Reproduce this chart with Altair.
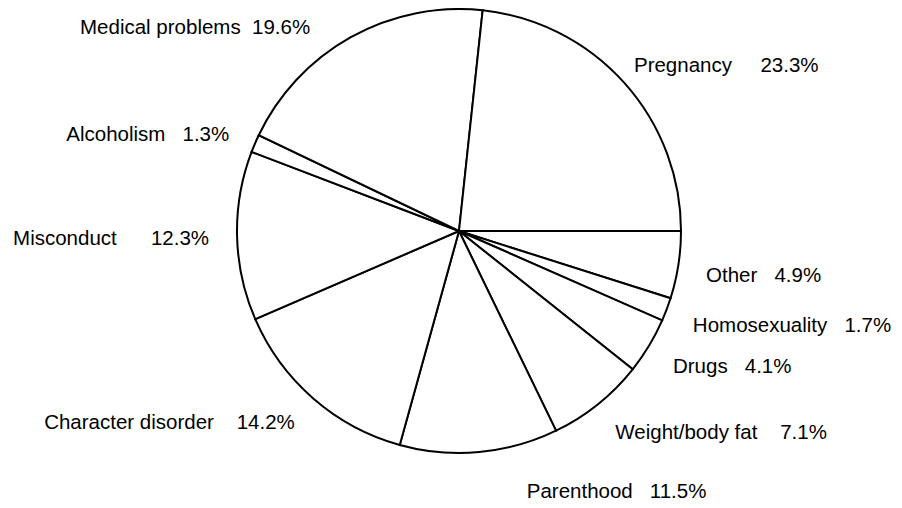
import math
import altair as alt
import pandas as pd

# Slices listed clockwise starting from the 3 o'clock position
categories = ["Other", "Homosexuality", "Drugs", "Weight/body fat", "Parenthood",
              "Character disorder", "Misconduct", "Alcoholism", "Medical problems", "Pregnancy"]
percents = [4.9, 1.7, 4.1, 7.1, 11.5, 14.2, 12.3, 1.3, 19.6, 23.3]
gaps = [3, 3, 3, 4, 3, 4, 6, 3, 2, 5]  # spaces between name and percentage in labels

NBSP = "\u00a0"
df = pd.DataFrame({
    "category": categories,
    "pct": percents,
    "idx": list(range(len(categories))),
    "label": [f"{c}{NBSP * g}{p:.1f}%" for c, p, g in zip(categories, percents, gaps)],
})

theta_scale = alt.Scale(domain=[0, 100], range=[math.pi / 2, math.pi / 2 + 2 * math.pi])

cx, cy = 451, 223

arc = alt.Chart(df).mark_arc(
    outerRadius=222, fill="white", stroke="black", strokeWidth=2
).encode(
    theta=alt.Theta("pct:Q", stack=True, scale=theta_scale),
    order=alt.Order("idx:Q", sort="ascending"),
    x=alt.value(cx),
    y=alt.value(cy),
)

labels_base = alt.Chart(df).transform_window(
    cum="sum(pct)", sort=[alt.SortField("idx")], frame=[None, 0]
).transform_calculate(
    mid="datum.cum - datum.pct / 2"
)

text_kw = dict(radius=250, baseline="middle", fontSize=20.5, font="Liberation Sans", color="black")


def label_layer(cond, align, dx=0, dy=0):
    return labels_base.transform_filter(cond).mark_text(
        align=align, dx=dx, dy=dy, **text_kw
    ).encode(
        theta=alt.Theta("mid:Q", stack=None, scale=theta_scale),
        text="label:N",
        x=alt.value(cx),
        y=alt.value(cy),
    )


layers = [
    arc,
    # right side, lower
    label_layer("datum.mid < 20", "left", dy=7),
    # near the bottom
    label_layer("datum.mid >= 20 && datum.mid < 25", "left", dx=45, dy=12),
    # right side, upper
    label_layer("datum.mid > 75", "left", dx=-11, dy=2),
    # left side
    label_layer("datum.mid >= 25 && datum.mid <= 60", "right", dy=3),
    # near the top, left
    label_layer("datum.mid > 60 && datum.mid <= 75", "right", dx=-27, dy=15),
]

chart = alt.layer(*layers).properties(
    width=886, height=494, autosize=alt.AutoSizeParams(type="none"), padding=0
).configure_view(stroke=None)

chart.save("out.html", embed_options={"renderer": "svg", "actions": False})
